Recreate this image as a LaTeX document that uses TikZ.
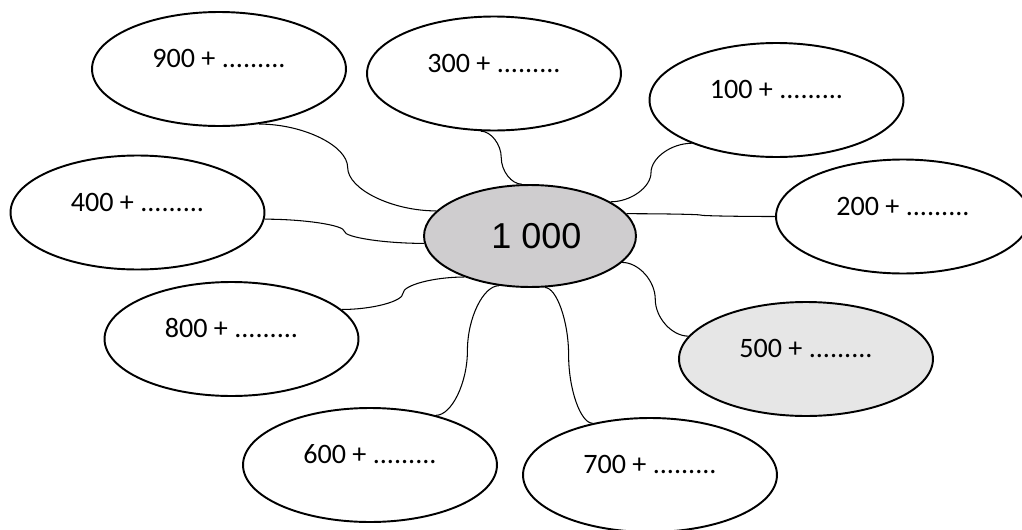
\documentclass[tikz,border=0pt]{standalone}
\usepackage{fontspec}
\setmainfont{Carlito}
\newfontfamily\arialfont{Liberation Sans}
\usetikzlibrary{shapes.geometric,calc}
\definecolor{hubgray}{RGB}{207,205,207}
\definecolor{softgray}{RGB}{230,230,230}

\begin{document}
\begin{tikzpicture}[x=0.02cm, y=0.02cm]
\tikzset{
    bubble/.style={ellipse,draw,line width=1.1pt,minimum width=5.08cm,minimum height=2.28cm,inner sep=0pt,
        font=\fontsize{16}{19}\selectfont,text height=6pt,text depth=7.2pt},
    hub/.style={ellipse,draw,line width=1.1pt,fill=hubgray,minimum width=4.24cm,minimum height=2.04cm,inner sep=0pt,
        font=\arialfont\fontsize{20.5}{24}\selectfont},
    link/.style={line width=0.6pt, to path={let \p1=(\tikztostart), \p2=(\tikztotarget) in
        .. controls ({(3*\x1+\x2)/4},\y1) and ({(\x1+\x2)/2},{(3*\y1+\y2)/4})
        .. ({(\x1+\x2)/2},{(\y1+\y2)/2})
        .. controls ({(\x1+\x2)/2},{(\y1+3*\y2)/4}) and ({(\x1+3*\x2)/4},\y2)
        .. (\tikztotarget)}}
}
\useasboundingbox (0,0) rectangle (1022,529);
% centre
\node[hub] (c) at (530,293) {\hspace*{0.26cm}1 000};
% bubbles
\node[bubble] (n900) at (219,460) {900 + .........};
\node[bubble] (n300) at (494,455.5) {300 + .........};
\node[bubble] (n100) at (776.5,429) {100 + .........};
\node[bubble] (n200) at (903,312.5) {200 + .........};
\node[bubble] (n400) at (137.5,316.5) {400 + .........};
\node[bubble] (n800) at (231.5,190) {800 + .........};
\node[bubble,fill=softgray] (n500) at (806,170) {500 + .........};
\node[bubble] (n600) at (370,64) {600 + .........};
\node[bubble] (n700) at (650,54) {700 + .........};
% connectors
\path
(n900.-54) edge[link] (c.165)
(n300.-103) edge[link] (c.99)
(n100.207) edge[link] (c.23)
(c.13) edge[link] (n200.180)
(n400.-3) edge[link] (c.184)
(n800.15) edge[link] (c.-148)
(n600.37) edge[link] (c.-122)
(c.-74) edge[link] (n700.138)
(c.-16) edge[link] (n500.169)
;
\end{tikzpicture}
\end{document}
